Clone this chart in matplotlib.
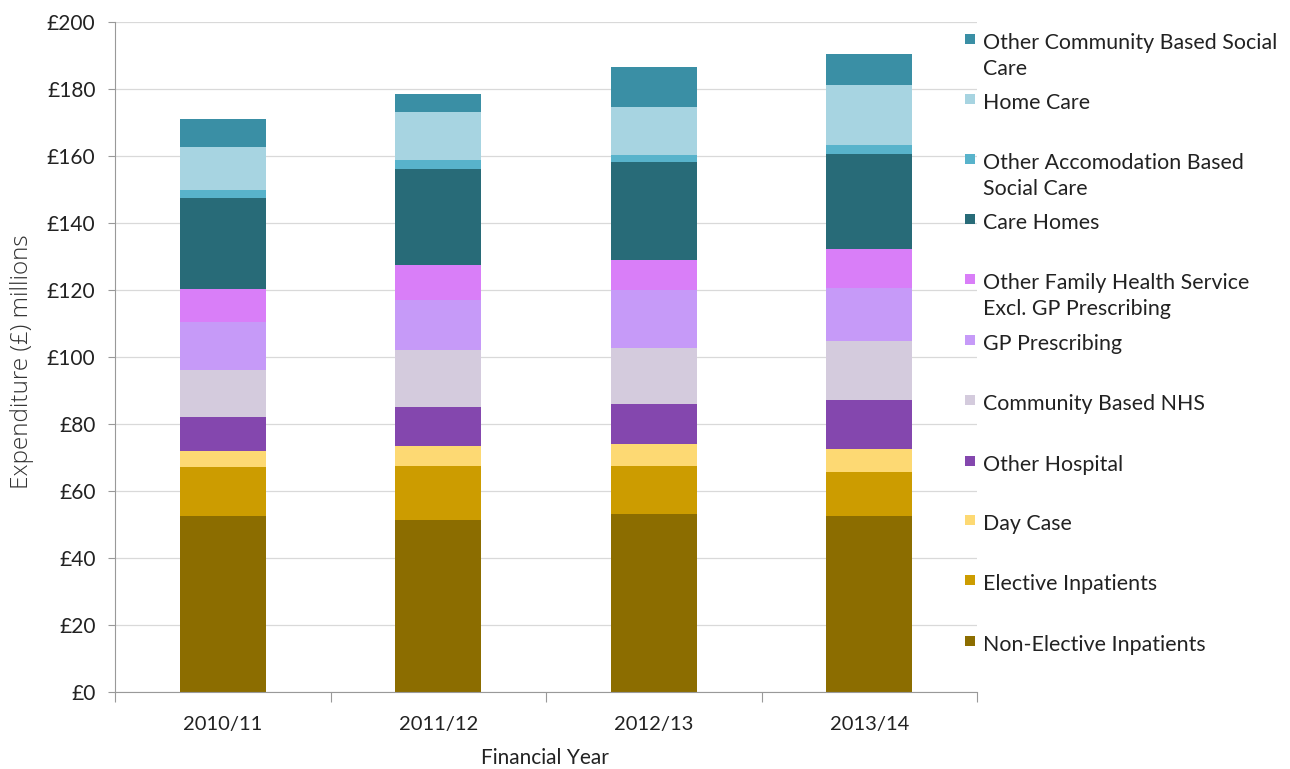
import matplotlib
matplotlib.use("Agg")
import matplotlib.pyplot as plt
from matplotlib.patches import Rectangle
import numpy as np

plt.rcParams['font.family'] = ['Lato', 'DejaVu Sans']

years = ["2010/11", "2011/12", "2012/13", "2013/14"]

# Expenditure by category (£ millions), stacked bottom to top
non_elective = [52.6, 51.3, 53.1, 52.4]
elective = [14.5, 16.1, 14.5, 13.4]
day_case = [4.7, 5.9, 6.5, 6.8]
other_hospital = [10.2, 11.7, 11.9, 14.7]
community_nhs = [14.0, 17.2, 16.6, 17.6]
gp_prescribing = [14.4, 14.7, 17.3, 15.7]
other_fhs = [9.8, 10.5, 9.0, 11.5]
care_homes = [27.4, 28.6, 29.2, 28.6]
other_accom = [2.2, 2.7, 2.3, 2.5]
home_care = [12.9, 14.5, 14.3, 18.0]
other_community = [8.3, 5.3, 11.9, 9.1]

series = [
    ("Non-Elective Inpatients", non_elective, "#8c6d00"),
    ("Elective Inpatients", elective, "#cc9c00"),
    ("Day Case", day_case, "#fdd973"),
    ("Other Hospital", other_hospital, "#8447ae"),
    ("Community Based NHS", community_nhs, "#d4cbdd"),
    ("GP Prescribing", gp_prescribing, "#c69af8"),
    ("Other Family Health Service\nExcl. GP Prescribing", other_fhs, "#d97ef8"),
    ("Care Homes", care_homes, "#286b78"),
    ("Other Accomodation Based\nSocial Care", other_accom, "#58b3cb"),
    ("Home Care", home_care, "#a7d4e1"),
    ("Other Community Based Social\nCare", other_community, "#3a8fa5"),
]

yticks = [0, 20, 40, 60, 80, 100, 120, 140, 160, 180, 200]
ytick_labels = ["£" + str(v) for v in yticks]

W, H = 1290, 769
fig = plt.figure(figsize=(W / 100, H / 100), dpi=100)
ax = fig.add_axes([115 / W, 1 - 692 / H, (977 - 115) / W, (692 - 22) / H])

x = np.arange(len(years))
bottom = np.zeros(len(years))
for name, vals, col in series:
    ax.bar(x, vals, width=0.4, bottom=bottom, color=col, edgecolor="none", zorder=2)
    bottom += np.array(vals)

ax.set_xlim(-0.5, len(years) - 0.5)
ax.set_ylim(0, 200)

# Horizontal gridlines and axes styling
ax.set_yticks(yticks)
ax.set_yticklabels(ytick_labels, fontsize=15, color="#222222")
ax.yaxis.grid(True, color="#d9d9d9", linewidth=0.9, zorder=0)
ax.tick_params(axis="y", length=5, color="#999999", width=0.8, pad=9)

ax.set_xticks(x)
ax.set_xticklabels(years, fontsize=14.5, color="#222222")
ax.tick_params(axis="x", length=0, pad=17)
ax.set_xticks(np.arange(-0.5, len(years)), minor=True)
ax.tick_params(axis="x", which="minor", length=7, color="#999999", width=0.8)

for side in ("top", "right"):
    ax.spines[side].set_visible(False)
for side in ("left", "bottom"):
    ax.spines[side].set_color("#999999")
    ax.spines[side].set_linewidth(0.8)

fig.text(545 / W, 1 - 758 / H, "Financial Year", ha="center", va="center",
         fontsize=15, color="#222222")
fig.text(22 / W, 1 - 362 / H, "Expenditure (£) millions", ha="center", va="center",
         rotation=90, fontsize=17.5, family="Open Sans", fontweight=300,
         color="#333333")

# Legend, top entry first
legend_y = [40, 100, 160, 220, 280, 341, 401, 462, 521, 581, 642]
for (name, vals, col), ly in zip(series[::-1], legend_y):
    fig.patches.append(Rectangle((965 / W, 1 - (ly + 4) / H), 10 / W, 10 / H,
                                 transform=fig.transFigure, facecolor=col,
                                 edgecolor="none"))
    fig.text(983 / W, 1 - (ly - 7) / H, name, ha="left", va="top",
             fontsize=15.4, color="#222222", linespacing=1.38)

fig.savefig("out.png", dpi=100)
